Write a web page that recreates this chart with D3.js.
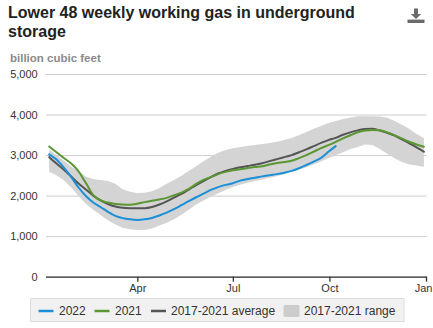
<!DOCTYPE html>
<html>
<head>
<meta charset="utf-8">
<script src="https://cdn.jsdelivr.net/npm/d3@7"></script>
<style>
  html, body { margin: 0; padding: 0; background: #fff; }
  svg { display: block; font-family: "Liberation Sans", Arial, sans-serif; }
</style>
</head>
<body>
<svg id="chart" width="433" height="328"></svg>
<script>
// ---- data ----
const weeks = ["2022-01-07","2022-01-14","2022-01-21","2022-01-28","2022-02-04","2022-02-11","2022-02-18","2022-02-25",
  "2022-03-04","2022-03-11","2022-03-18","2022-03-25","2022-04-01","2022-04-08","2022-04-15","2022-04-22","2022-04-29",
  "2022-05-06","2022-05-13","2022-05-20","2022-05-27","2022-06-03","2022-06-10","2022-06-17","2022-06-24",
  "2022-07-01","2022-07-08","2022-07-15","2022-07-22","2022-07-29","2022-08-05","2022-08-12","2022-08-19","2022-08-26",
  "2022-09-02","2022-09-09","2022-09-16","2022-09-23","2022-09-30","2022-10-07","2022-10-14","2022-10-21","2022-10-28",
  "2022-11-04","2022-11-11","2022-11-18","2022-11-25","2022-12-02","2022-12-09","2022-12-16","2022-12-23","2022-12-30"];

const series2022 = [3019,2890,2690,2460,2200,1990,1830,1720,1600,1500,1445,1415,1400,1415,1450,1510,1580,
  1665,1765,1865,1960,2050,2140,2210,2265,2305,2370,2410,2440,2475,2505,2530,2565,2610,2675,2755,2840,2930,3080,3220];

const series2021 = [3210,3070,2930,2790,2600,2310,2010,1880,1830,1795,1780,1775,1800,1840,1875,1905,1945,
  2010,2075,2165,2290,2390,2455,2530,2585,2625,2650,2680,2705,2725,2770,2805,2830,2860,2925,3000,3085,3170,3245,3325,
  3410,3490,3565,3605,3620,3610,3560,3490,3410,3330,3260,3205];

const seriesAvg = [2950,2790,2640,2470,2300,2150,2000,1880,1790,1730,1700,1690,1688,1690,1720,1780,1860,
  1950,2040,2150,2260,2360,2455,2545,2610,2660,2700,2730,2760,2800,2850,2900,2950,3000,3070,3140,3220,3300,3370,3425,
  3500,3560,3610,3645,3650,3605,3550,3480,3390,3290,3190,3085];

const rangeMax = [3130,3000,2860,2720,2600,2470,2410,2385,2360,2290,2160,2095,2065,2070,2110,2190,2290,
  2385,2490,2610,2725,2850,2960,3060,3125,3170,3200,3225,3250,3275,3300,3330,3370,3420,3490,3570,3650,3720,3790,3840,
  3890,3930,3955,3960,3960,3950,3920,3840,3750,3650,3520,3420];

const rangeMin = [2590,2500,2380,2200,1990,1800,1650,1520,1390,1290,1210,1170,1150,1150,1190,1260,1330,
  1420,1530,1650,1780,1880,1970,2060,2140,2210,2270,2320,2360,2400,2440,2480,2530,2580,2640,2700,2770,2840,2920,3000,
  3070,3150,3200,3260,3250,3150,3030,2920,2830,2770,2740,2710];

const yTicks = [0,1000,2000,3000,4000,5000];
const xTickDates = ["2022-04-01","2022-07-01","2022-10-01","2023-01-01"];
const xTickLabels = ["Apr","Jul","Oct","Jan"];
const legendLabels = ["2022","2021","2017-2021 average","2017-2021 range"];

// ---- setup ----
const parse = d3.utcParse("%Y-%m-%d");
const dates = weeks.map(parse);
const svg = d3.select("#chart");

const x = d3.scaleUtc().domain([parse("2022-01-04"), parse("2023-01-01")]).range([46, 426]);
const y = d3.scaleLinear().domain([0, 5000]).range([276.7, 74]);

const C = { blue: "#1b8fd8", green: "#5a9632", avg: "#555555", band: "#d4d4d4", grid: "#cccccc" };

// title
const title = svg.append("text").attr("x", 8).attr("fill", "#222").attr("font-weight", "bold").attr("font-size", 16);
title.append("tspan").attr("x", 8).attr("y", 18.3).text("Lower 48 weekly working gas in underground");
title.append("tspan").attr("x", 8).attr("y", 37.3).text("storage");

// download icon
const icon = svg.append("g").attr("fill", "#6b6b6b");
icon.append("path").attr("d", "M414,8.5 h4 v5.5 h3.2 l-5.2,5 l-5.2,-5 h3.2 z");
icon.append("rect").attr("x", 407.5).attr("y", 19.6).attr("width", 17).attr("height", 3.4);

// unit label
svg.append("text").attr("x", 10).attr("y", 62).attr("fill", "#8a8a8a")
  .attr("font-weight", "bold").attr("font-size", 11.5).text("billion cubic feet");

// gridlines + y labels
const yAxis = d3.axisLeft(y).tickValues(yTicks).tickFormat(d3.format(",")).tickSize(-(426.7 - 46)).tickPadding(8);
const gy = svg.append("g").attr("transform", "translate(46,0)").call(yAxis);
gy.select(".domain").remove();
gy.selectAll(".tick line").attr("stroke", C.grid).attr("stroke-width", 1);
gy.selectAll(".tick text").attr("font-size", 11).attr("fill", "#333")
  .attr("font-family", "Liberation Sans, Arial, sans-serif").attr("x", -8.3);

// band
const area = d3.area().x((d, i) => x(dates[i])).y0((d, i) => y(rangeMin[i])).y1((d, i) => y(rangeMax[i]));
svg.append("path").datum(rangeMax).attr("d", area).attr("fill", C.band);

// lines
const line = d3.line().x((d, i) => x(dates[i])).y(d => y(d)).curve(d3.curveMonotoneX);
[[seriesAvg, C.avg], [series2021, C.green], [series2022, C.blue]].forEach(([s, c]) => {
  svg.append("path").datum(s).attr("d", line).attr("fill", "none").attr("stroke", c)
    .attr("stroke-width", 2).attr("stroke-linejoin", "round").attr("stroke-linecap", "round");
});

// x axis
const xAxis = d3.axisBottom(x).tickValues(xTickDates.map(parse))
  .tickFormat((d, i) => xTickLabels[i]).tickSize(5).tickSizeOuter(0).tickPadding(3);
const gx = svg.append("g").attr("transform", `translate(0,${y(0)})`).call(xAxis);
gx.select(".domain").attr("stroke", "#333").attr("stroke-width", 1.3).attr("d", "M46,0.5H427");
gx.selectAll(".tick line").attr("stroke", "#333").attr("stroke-width", 1.3);
gx.selectAll(".tick text").attr("font-size", 11).attr("fill", "#333")
  .attr("font-family", "Liberation Sans, Arial, sans-serif");
// keep the last label inside the window
gx.selectAll(".tick text").filter((d, i) => i === xTickLabels.length - 1)
  .attr("text-anchor", "end").attr("dx", 6);

// legend
const lg = svg.append("g");
lg.append("rect").attr("x", 30.5).attr("y", 298.5).attr("width", 373.5).attr("height", 23)
  .attr("fill", "#f1f1f1").attr("stroke", "#dddddd");
const legendItems = [
  { label: legendLabels[0], color: C.blue, type: "line", sx: 38.5, tx: 59 },
  { label: legendLabels[1], color: C.green, type: "line", sx: 94.5, tx: 115 },
  { label: legendLabels[2], color: C.avg, type: "line", sx: 151, tx: 171 },
  { label: legendLabels[3], color: "#cccccc", type: "box", sx: 283.5, tx: 304 }
];
legendItems.forEach(it => {
  if (it.type === "line") {
    lg.append("line").attr("x1", it.sx).attr("x2", it.sx + 15).attr("y1", 311).attr("y2", 311)
      .attr("stroke", it.color).attr("stroke-width", 2.5);
  } else {
    lg.append("rect").attr("x", it.sx).attr("y", 305).attr("width", 16).attr("height", 12)
      .attr("rx", 1.5).attr("fill", it.color);
  }
  lg.append("text").attr("x", it.tx).attr("y", 315.3).attr("font-size", 12).attr("fill", "#333").text(it.label);
});
</script>
</body>
</html>
